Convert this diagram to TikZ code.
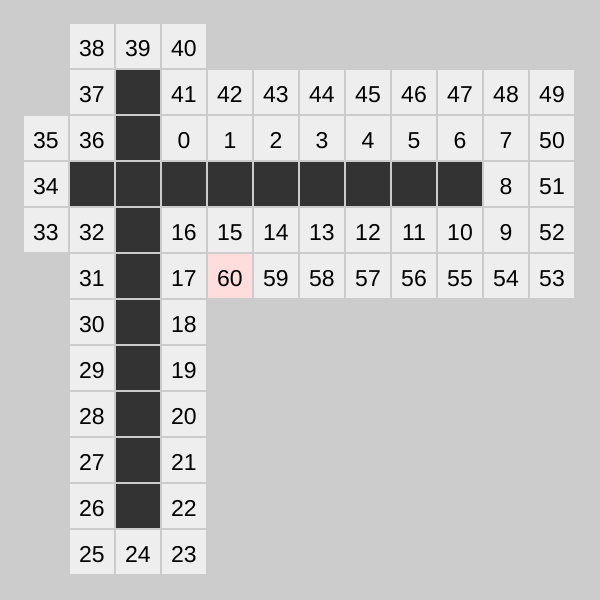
\documentclass[tikz,border=0pt]{standalone}
\usepackage{fontspec}
\setmainfont{Liberation Sans}
\definecolor{bgc}{HTML}{CCCCCC}
\definecolor{cellc}{HTML}{EEEEEE}
\definecolor{darkc}{HTML}{333333}
\definecolor{pinkc}{HTML}{FFDDDD}
\tikzset{
  cell/.style={minimum width=44pt,minimum height=44pt,inner sep=0pt,fill=cellc},
  wall/.style={cell,fill=darkc},
  goal/.style={cell,fill=pinkc},
  num/.style={inner sep=0pt,text height=16.5pt,text depth=0pt,font=\fontsize{23pt}{26pt}\selectfont,yshift=-2pt}
}
\newcommand{\C}[4][cell]{\node[#1] (n#2-#3) at ({24+46*#2+22},{-(24+46*#3+22)}) {};
  \node[num] (t#2-#3) at (n#2-#3.center) {#4};}
\begin{document}
\begin{tikzpicture}[x=1pt,y=1pt]
\fill[bgc] (0,0) rectangle (600,-600);
\useasboundingbox (0,0) rectangle (600,-600);
% row 0
\C{1}{0}{38}\C{2}{0}{39}\C{3}{0}{40}
% row 1
\C{1}{1}{37}\C[wall]{2}{1}{}\C{3}{1}{41}\C{4}{1}{42}\C{5}{1}{43}\C{6}{1}{44}\C{7}{1}{45}\C{8}{1}{46}\C{9}{1}{47}\C{10}{1}{48}\C{11}{1}{49}
% row 2
\C{0}{2}{35}\C{1}{2}{36}\C[wall]{2}{2}{}\C{3}{2}{0}\C{4}{2}{1}\C{5}{2}{2}\C{6}{2}{3}\C{7}{2}{4}\C{8}{2}{5}\C{9}{2}{6}\C{10}{2}{7}\C{11}{2}{50}
% row 3
\C{0}{3}{34}\C[wall]{1}{3}{}\C[wall]{2}{3}{}\C[wall]{3}{3}{}\C[wall]{4}{3}{}\C[wall]{5}{3}{}\C[wall]{6}{3}{}\C[wall]{7}{3}{}\C[wall]{8}{3}{}\C[wall]{9}{3}{}\C{10}{3}{8}\C{11}{3}{51}
% row 4
\C{0}{4}{33}\C{1}{4}{32}\C[wall]{2}{4}{}\C{3}{4}{16}\C{4}{4}{15}\C{5}{4}{14}\C{6}{4}{13}\C{7}{4}{12}\C{8}{4}{11}\C{9}{4}{10}\C{10}{4}{9}\C{11}{4}{52}
% row 5
\C{1}{5}{31}\C[wall]{2}{5}{}\C{3}{5}{17}\C[goal]{4}{5}{60}\C{5}{5}{59}\C{6}{5}{58}\C{7}{5}{57}\C{8}{5}{56}\C{9}{5}{55}\C{10}{5}{54}\C{11}{5}{53}
% rows 6-10
\C{1}{6}{30}\C[wall]{2}{6}{}\C{3}{6}{18}
\C{1}{7}{29}\C[wall]{2}{7}{}\C{3}{7}{19}
\C{1}{8}{28}\C[wall]{2}{8}{}\C{3}{8}{20}
\C{1}{9}{27}\C[wall]{2}{9}{}\C{3}{9}{21}
\C{1}{10}{26}\C[wall]{2}{10}{}\C{3}{10}{22}
% row 11
\C{1}{11}{25}\C{2}{11}{24}\C{3}{11}{23}
\end{tikzpicture}
\end{document}
